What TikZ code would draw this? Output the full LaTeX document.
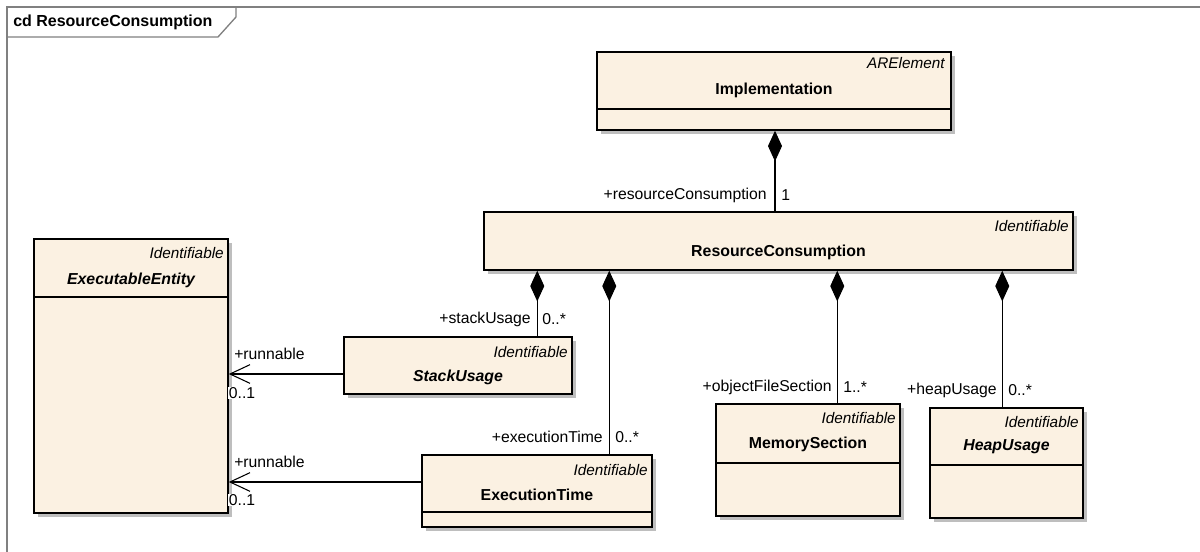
\documentclass[tikz,border=0pt]{standalone}
\usepackage{fontspec}
\setmainfont{Liberation Sans}
\usetikzlibrary{arrows.meta,calc,shadows}
\definecolor{clsfill}{RGB}{251,241,226}
\definecolor{framegray}{RGB}{128,128,128}
\definecolor{shadowgray}{RGB}{190,190,190}
\begin{document}
\begin{tikzpicture}[x=0.75pt,y=-0.75pt,
  cls/.style 2 args={draw=black, line width=1.1pt, fill=clsfill, rectangle, inner sep=0pt,
     minimum width=#1*0.75pt, minimum height=#2*0.75pt,
     drop shadow={shadow xshift=3pt, shadow yshift=-3pt, fill=shadowgray, opacity=1}},
  txt/.style={inner sep=0pt, font=\fontsize{11.8}{13}\selectfont},
  cname/.style={inner sep=0pt, font=\fontsize{11.9}{13}\selectfont\bfseries},
  aname/.style={inner sep=0pt, font=\fontsize{11.9}{13}\selectfont\bfseries\itshape},
  stereo/.style={inner sep=0pt, anchor=east, font=\fontsize{11.5}{13}\selectfont\itshape},
  divider/.style={line width=1.1pt},
  comp/.style={line width=0.8pt, {Diamond[length=23pt,width=10.5pt]}-},
  assoc/.style={line width=0.8pt, -{Straight Barb[length=15pt,width=14pt,line width=0.8pt]}}
]
\useasboundingbox (0,0) rectangle (1200,552);
\fill[white] (0,0) rectangle (1200,552);

% frame
\draw[framegray, line width=1.5pt] (7,552) -- (7,7) -- (1200,7);
\draw[framegray, line width=1pt] (7,37) -- (218,37) -- (236,17) -- (236,7);
\node[inner sep=0pt, anchor=west, font=\fontsize{12}{14}\selectfont\bfseries] (title) at (13,22) {cd ResourceConsumption};

% classes
\node[cls={354}{78}] (impl) at (774,91) {};
\draw[divider] (impl.west |- 0,109) -- (impl.east |- 0,109);
\node[stereo] (implS) at (945,63) {ARElement};
\node[cname] (implN) at (774,90) {Implementation};

\node[cls={589}{58}] (rc) at (778.5,241) {};
\node[stereo] (rcS) at (1069,226) {Identifiable};
\node[cname] (rcN) at (778.5,252) {ResourceConsumption};

\node[cls={194}{274}] (ee) at (131,376) {};
\draw[divider] (ee.west |- 0,297) -- (ee.east |- 0,297);
\node[stereo] (eeS) at (224,253) {Identifiable};
\node[aname] (eeN) at (131,280) {ExecutableEntity};

\node[cls={228}{57}] (su) at (458,365.5) {};
\node[stereo] (suS) at (568,352) {Identifiable};
\node[aname] (suN) at (458,377) {StackUsage};

\node[cls={230}{72}] (et) at (537,491) {};
\draw[divider] (et.west |- 0,512) -- (et.east |- 0,512);
\node[stereo] (etS) at (648,470) {Identifiable};
\node[cname] (etN) at (537,495) {ExecutionTime};

\node[cls={184}{112}] (ms) at (808,460) {};
\draw[divider] (ms.west |- 0,463) -- (ms.east |- 0,463);
\node[stereo] (msS) at (896,418) {Identifiable};
\node[cname] (msN) at (808,444) {MemorySection};

\node[cls={153}{110}] (hu) at (1006.5,463) {};
\draw[divider] (hu.west |- 0,465) -- (hu.east |- 0,465);
\node[stereo] (huS) at (1079,422) {Identifiable};
\node[aname] (huN) at (1006.5,447) {HeapUsage};

% connection points
\coordinate (pImpl) at (775,130);
\coordinate (pSU) at ($(su.north west)+(194,0)$);
\coordinate (pET) at ($(et.north west)+(188,0)$);
\coordinate (pMS) at ($(ms.north west)+(122,0)$);
\coordinate (pHU) at ($(hu.north west)+(73,0)$);
\coordinate (pEE1) at (ee.east |- 0,374);
\coordinate (pEE2) at (ee.east |- 0,482);

% compositions
\draw[comp] (pImpl |- impl.south) -- (pImpl |- rc.north);
\draw[comp] (pSU |- rc.south) -- (pSU);
\draw[comp] (pET |- rc.south) -- (pET);
\draw[comp] (pMS |- rc.south) -- (pMS);
\draw[comp] (pHU |- rc.south) -- (pHU);

% associations
\draw[assoc] (su.west |- pEE1) -- (pEE1);
\draw[assoc] (et.west |- pEE2) -- (pEE2);

% role labels
\node[txt, anchor=east] (l1) at (767,195) {+resourceConsumption};
\node[txt, anchor=west] (m1) at (781,195) {1};
\node[txt, anchor=east] (l2) at (531,319) {+stackUsage};
\node[txt, anchor=west] (m2) at (542,319) {0..*};
\node[txt, anchor=east] (l3) at (603,437) {+executionTime};
\node[txt, anchor=west] (m3) at (615,437) {0..*};
\node[txt, anchor=east] (l4) at (832,387) {+objectFileSection};
\node[txt, anchor=west] (m4) at (843,387) {1..*};
\node[txt, anchor=east] (l5) at (997,390) {+heapUsage};
\node[txt, anchor=west] (m5) at (1008,390) {0..*};
\node[txt, anchor=west] (l6) at (234,354) {+runnable};
\node[txt, anchor=west, fill=white, inner sep=0.5pt] (m6) at (228,393) {0..1};
\node[txt, anchor=west] (l7) at (234,462) {+runnable};
\node[txt, anchor=west, fill=white, inner sep=0.5pt] (m7) at (228,500) {0..1};
\end{tikzpicture}
\end{document}
